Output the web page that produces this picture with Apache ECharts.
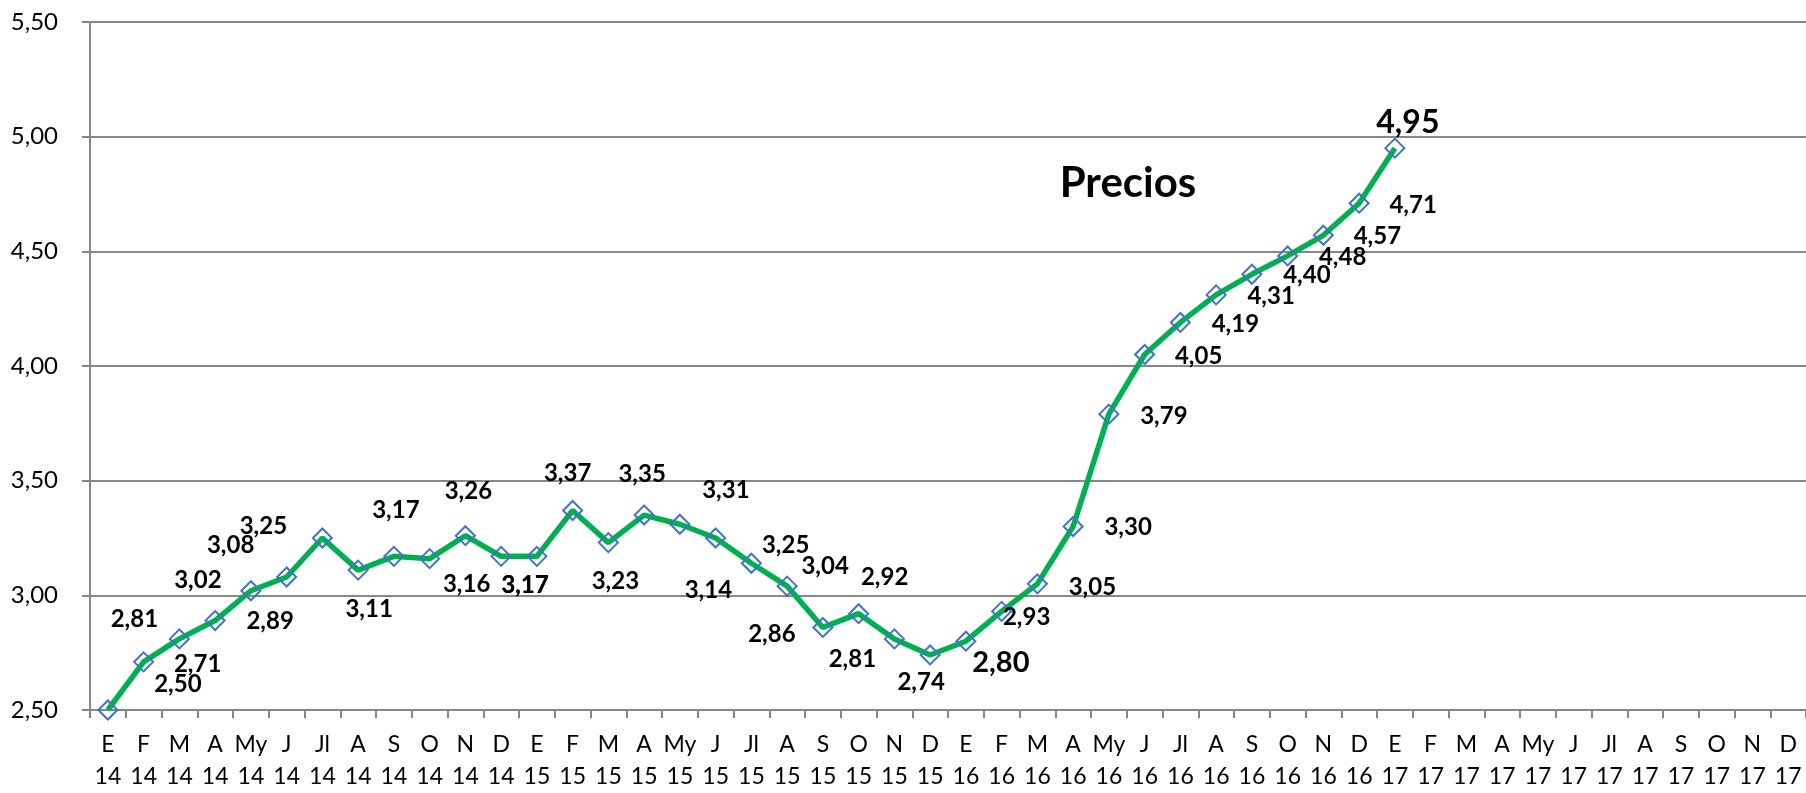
<!DOCTYPE html>
<html>
<head>
<meta charset="utf-8">
<script src="https://cdn.jsdelivr.net/npm/echarts@6/dist/echarts.min.js"></script>
<style>
html,body{margin:0;padding:0;background:#fff;}
#chart{width:1806px;height:793px;}
</style>
</head>
<body>
<div id="chart"></div>
<script>
// ---- data ----
const months = ['E','F','M','A','My','J','Jl','A','S','O','N','D'];
const years = ['14','15','16','17'];
const prices = [2.50,2.71,2.81,2.89,3.02,3.08,3.25,3.11,3.17,3.16,3.26,3.17,
                3.17,3.37,3.23,3.35,3.31,3.25,3.14,3.04,2.86,2.92,2.81,2.74,
                2.80,2.93,3.05,3.30,3.79,4.05,4.19,4.31,4.40,4.48,4.57,4.71,
                4.95];
const yTicks = [2.5,3.0,3.5,4.0,4.5,5.0,5.5];
const seriesName = 'Precios';

// ---- label placement (styling) ----
const labelOffsets = [[70,-26],[54,2],[-45,-20],[55,1],[-53,-10],[-56,-32],[-59,-12],[11,39],[2,-46],[37,26],[3,-44],[24,29],
  [-12,29],[-5,-37],[7,39],[-2,-41],[46,-34],[70,7],[-43,27],[38,-20],[-51,7],[26,-36],[-42,20],[-9,27],
  [35,21],[25,6],[55,3],[55,1],[55,2],[54,2],[55,2],[55,1],[55,1],[55,1],[54,1],[54,2],
  [13,-25]];
const bigLabels = {24:29, 36:32};

const categories = [];
years.forEach(y => months.forEach(m => categories.push(m + '\n' + y)));

const fmt = v => v.toFixed(2).replace('.', ',');
const FONT = 'Lato, "Open Sans", sans-serif';
const GRAY = '#878787';

const seriesData = prices.map((v, i) => ({
  value: v,
  label: {fontSize: bigLabels[i] || 24}
}));

const chart = echarts.init(document.getElementById('chart'));
chart.setOption({
  backgroundColor: '#fff',
  animation: false,
  title: {
    text: seriesName,
    left: 1123, top: 155,
    textAlign: 'center',
    textStyle: {fontFamily: FONT, fontWeight: 'bold', fontSize: 42, color: '#000', lineHeight: 46}
  },
  grid: {left: 90, right: 0, top: 22, bottom: 78, containLabel: false},
  xAxis: {
    type: 'category',
    data: categories,
    boundaryGap: true,
    axisLine: {show: true, lineStyle: {color: GRAY, width: 2}},
    axisTick: {show: true, length: 8, inside: false, alignWithLabel: false, lineStyle: {color: GRAY, width: 2}},
    axisLabel: {interval: 0, margin: 19, fontFamily: FONT, fontSize: 23, lineHeight: 32, color: '#000'},
    splitLine: {show: false}
  },
  yAxis: {
    type: 'value',
    min: yTicks[0], max: yTicks[yTicks.length - 1], interval: 0.5,
    axisLine: {show: true, lineStyle: {color: GRAY, width: 2}},
    axisTick: {show: true, length: 8, lineStyle: {color: GRAY, width: 2}},
    axisLabel: {margin: 32, fontFamily: FONT, fontSize: 24, color: '#000', formatter: fmt},
    splitLine: {show: true, lineStyle: {color: GRAY, width: 2}}
  },
  series: [{
    name: seriesName,
    type: 'line',
    data: seriesData,
    clip: false,
    symbol: 'diamond',
    symbolSize: 19,
    lineStyle: {color: '#00B050', width: 5.5},
    itemStyle: {color: 'rgba(255,255,255,0)', borderColor: '#4472C4', borderWidth: 2},
    label: {
      show: true,
      position: 'inside',
      align: 'center',
      verticalAlign: 'middle',
      fontFamily: FONT,
      fontWeight: 'bold',
      color: '#000',
      formatter: p => fmt(p.value)
    },
    labelLayout: p => ({
      dx: labelOffsets[p.dataIndex][0],
      dy: labelOffsets[p.dataIndex][1],
      hideOverlap: false,
      moveOverlap: null
    }),
    z: 3
  }]
});
</script>
</body>
</html>
